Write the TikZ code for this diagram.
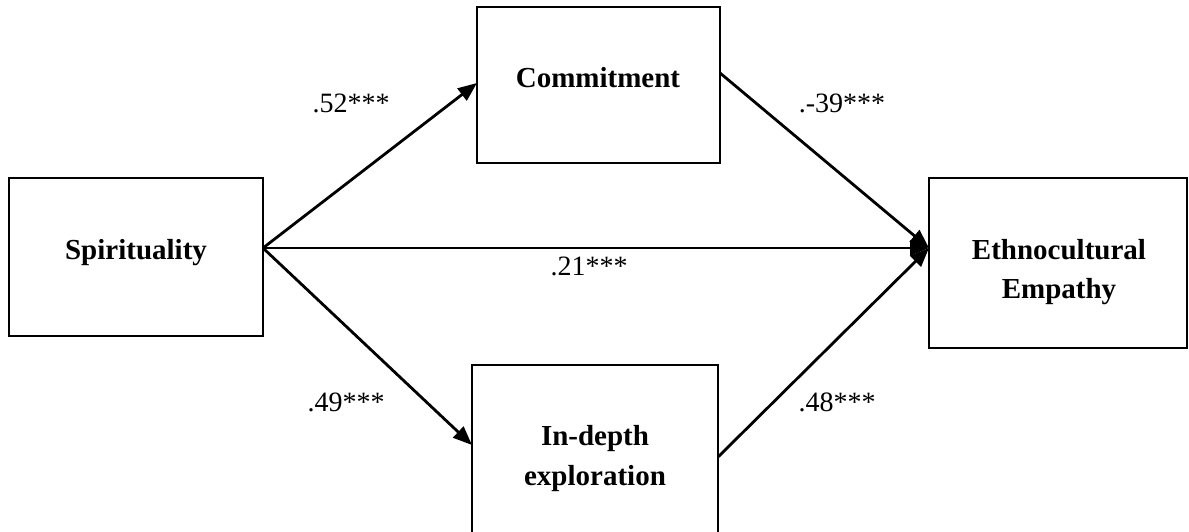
\documentclass[tikz,border=0pt]{standalone}
\usepackage{fontspec}
\setmainfont{Liberation Serif}
\usetikzlibrary{arrows.meta}
\begin{document}
\begin{tikzpicture}[x=1pt,y=-1pt,
  box/.style={draw, line width=2.2pt, outer sep=0pt, inner sep=0pt},
  boxtext/.style={font=\fontsize{29}{40}\selectfont\bfseries, inner sep=0pt, anchor=base, align=center},
  coef/.style={font=\fontsize{28}{34}\selectfont, inner sep=0pt, anchor=base},
  path/.style={line width=2.8pt, -{Triangle[length=19pt,width=15pt]}}]
\useasboundingbox (0,0) rectangle (1189,532);
\clip (0,0) rectangle (1189,532);
% boxes
\node[box, minimum width=254pt, minimum height=158pt] (sp) at (136,257) {};
\node[box, minimum width=243pt, minimum height=156pt] (cm) at (598.5,85) {};
\node[box, minimum width=246pt, minimum height=175pt] (id) at (595,452.5) {};
\node[box, minimum width=258pt, minimum height=170pt] (et) at (1058,263) {};
% box texts
\node[boxtext] (spt) at (136,259) {Spirituality};
\node[boxtext] (cmt) at (598,88) {Commitment};
\node[boxtext] (idt1) at (595,445) {In-depth};
\node[boxtext] (idt2) at (595,485) {exploration};
\node[boxtext] (ett1) at (1059,259) {Ethnocultural};
\node[boxtext] (ett2) at (1059,298) {Empathy};
% connectors
\draw[path] ([yshift=9pt]sp.east) -- ([yshift=2pt]cm.west);
\draw[path] ([yshift=9pt]sp.east) -- ([yshift=7.5pt]id.west);
\draw[path] ([yshift=9pt]sp.east) -- ([yshift=15pt]et.west);
\draw[path] ([yshift=12pt]cm.east) -- ([yshift=15pt]et.west);
\draw[path] ([yshift=-4.5pt]id.east) -- ([yshift=15pt]et.west);
% coefficients
\node[coef] (c1) at (351,113) {.52***};
\node[coef] (c2) at (842,113) {.-39***};
\node[coef] (c3) at (589,275) {.21***};
\node[coef] (c4) at (346,411) {.49***};
\node[coef] (c5) at (837,411) {.48***};
\end{tikzpicture}
\end{document}
